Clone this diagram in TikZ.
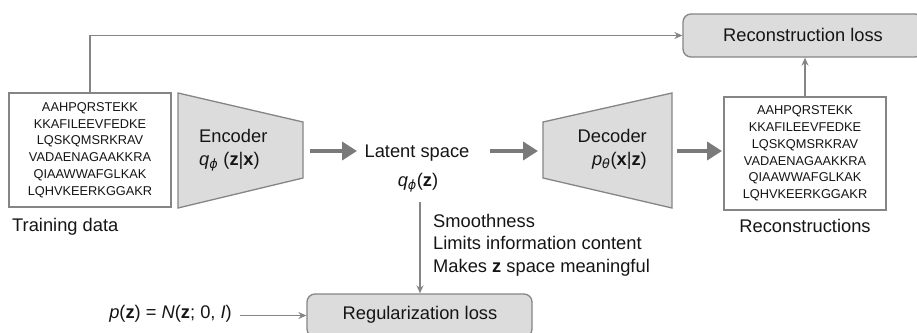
\documentclass[tikz,border=0pt]{standalone}
\usepackage{fontspec}
\setmainfont{Liberation Sans}
\newfontfamily\grk{DejaVu Sans}
\usetikzlibrary{arrows.meta}
\definecolor{lgray}{HTML}{DCDCDC}
\definecolor{lline}{HTML}{858585}
\definecolor{agray}{HTML}{7A7A7A}
\definecolor{txt}{HTML}{151515}
\newcommand{\mybf}[1]{\textbf{#1}}
\tikzset{
  thinarrow/.style={draw=lline, line width=1.3pt, -{Stealth[length=8pt,width=7pt]}},
  fatarrow/.style={draw=agray, line width=4.5pt, -{Triangle[length=15pt,width=18pt]}},
  lossbox/.style={draw=lline, line width=1.3pt, fill=lgray, rounded corners=8pt,
    minimum width=240pt, minimum height=43pt, inner sep=0pt},
  seqbox/.style={draw=lline, line width=1.3pt, fill=white, minimum width=162pt,
    minimum height=114pt, inner sep=0pt, align=center,
    font=\fontsize{12.8}{16.8}\selectfont},
  lbl/.style={text=txt, font=\fontsize{18.3}{22.5}\selectfont, inner sep=0pt},
  trap/.style={draw=lline, line width=1.3pt, fill=lgray, line join=miter},
}
\begin{document}
\begin{tikzpicture}[x=1pt,y=-1pt]
\useasboundingbox (0,0) rectangle (917,332);

% loss boxes
\node[lossbox] (recloss) at (803,35.5) {};
\node[lbl, anchor=base] at (803,41) {Reconstruction loss};
\node[lossbox, minimum width=225pt] (regloss) at (419.5,315.5) {};
\node[lbl, anchor=base] at (420,319) {Regularization loss};

% data boxes
\node[seqbox, text=txt] (train) at (90,150) {AAHPQRSTEKK\\KKAFILEEVFEDKE\\LQSKQMSRKRAV\\VADAENAGAAKKRA\\QIAAWWAFGLKAK\\LQHVKEERKGGAKR};
\node[seqbox, text=txt, minimum height=113pt] (recbox) at (805,153.5) {AAHPQRSTEKK\\KKAFILEEVFEDKE\\LQSKQMSRKRAV\\VADAENAGAAKKRA\\QIAAWWAFGLKAK\\LQHVKEERKGGAKR};
\node[lbl, anchor=base west] (traintxt) at (12,231) {Training data};
\node[lbl, anchor=base] (rectxt) at (805,232) {Reconstructions};

% encoder / decoder
\draw[trap] (178,93) -- (303,122) -- (303,178) -- (178,208) -- cycle;
\draw[trap] (543,122) -- (672,93) -- (672,208) -- (543,178) -- cycle;
\node[lbl, anchor=base west] (enc) at (199,142) {Encoder};
\node[lbl, anchor=base west] (encq) at (199,165) {{\itshape q}\textsubscript{\grk\itshape ϕ} (\mybf{z}|\mybf{x})};
\node[lbl, anchor=base east] (dec) at (647,142) {Decoder};
\node[lbl, anchor=base east] (decp) at (647,165) {{\itshape p}\textsubscript{\grk\itshape θ}(\mybf{x}|\mybf{z})};

% latent
\node[lbl, anchor=base] (latent) at (417,157) {Latent space};
\node[lbl, anchor=base] (latq) at (418,186) {{\itshape q}\textsubscript{\grk\itshape ϕ}(\mybf{z})};

% reg text
\node[lbl, anchor=base west] (s1) at (433,227) {Smoothness};
\node[lbl, anchor=base west] (s2) at (433,249.5) {Limits information content};
\node[lbl, anchor=base west] (s3) at (433,272) {Makes \mybf{z} space meaningful};
\node[lbl, anchor=base east] (pz) at (232,318) {{\itshape p}(\mybf{z}) = {\itshape N}(\mybf{z}; 0, {\itshape I})};

% coordinates for arrows
\coordinate (a1s) at (310,151); \coordinate (a1e) at (357,151);
\coordinate (a2s) at (490,151); \coordinate (a2e) at (538,151);
\coordinate (a3s) at (677,151); \coordinate (a3e) at (722,151);
\coordinate (latbot) at (420,202);

\draw[fatarrow] (a1s) -- (a1e);
\draw[fatarrow] (a2s) -- (a2e);
\draw[fatarrow] (a3s) -- (a3e);

\draw[thinarrow] (train.north) |- (recloss.west);
\draw[thinarrow] (recbox.north) -- (recbox.north |- recloss.south);
\draw[thinarrow] (latbot) -- (latbot |- regloss.north);
\draw[thinarrow, shorten <=8pt] (pz.east |- regloss.west) -- (regloss.west);
\end{tikzpicture}
\end{document}
